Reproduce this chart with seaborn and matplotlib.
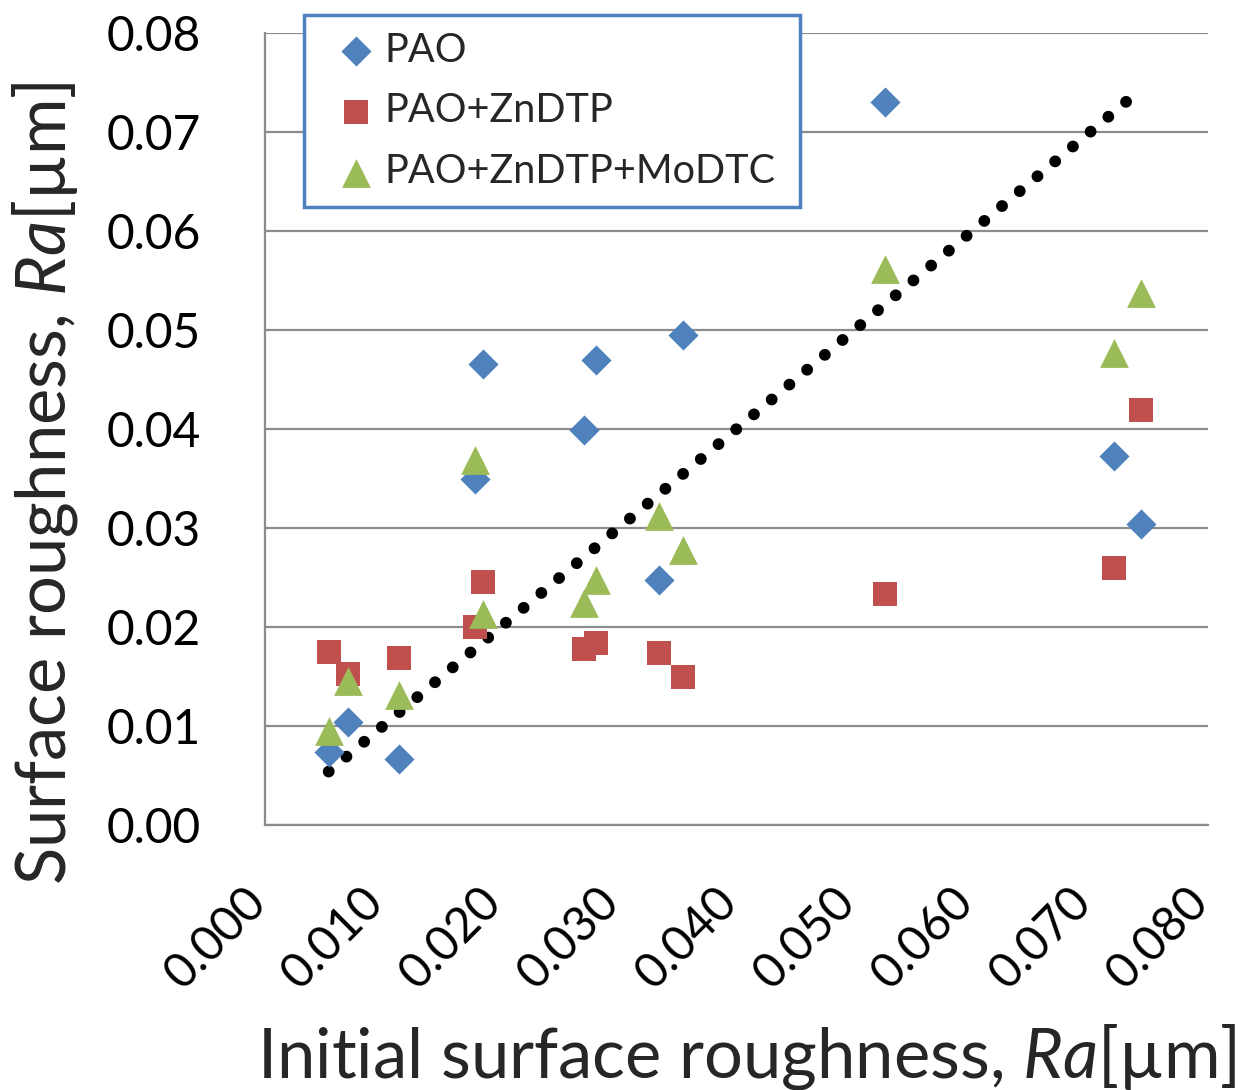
import numpy as np
import pandas as pd
import seaborn as sns
import matplotlib.pyplot as plt
import matplotlib.transforms as mtransforms

sns.set_theme(style="white")
plt.rcParams['font.family'] = ['Lato', 'DejaVu Sans']
plt.rcParams['mathtext.fontset'] = 'custom'
plt.rcParams['mathtext.rm'] = 'Lato'
plt.rcParams['mathtext.it'] = 'Lato:italic'

# initial roughness (shared by all three oils)
init_ra = [0.0054, 0.0070, 0.0114, 0.0178, 0.0185, 0.0271, 0.0281, 0.0334, 0.0355, 0.0526, 0.0720, 0.0743]

pao = [0.0074, 0.0104, 0.0067, 0.0350, 0.0466, 0.0399, 0.0470, 0.0247, 0.0495, 0.0730, 0.0373, 0.0304]
pao_zn = [0.0175, 0.0153, 0.0169, 0.0200, 0.0245, 0.0178, 0.0184, 0.0174, 0.0150, 0.0233, 0.0260, 0.0419]
pao_zn_mo = [0.0095, 0.0145, 0.0131, 0.0369, 0.0213, 0.0224, 0.0248, 0.0312, 0.0278, 0.0562, 0.0477, 0.0537]

names = ['PAO', 'PAO+ZnDTP', 'PAO+ZnDTP+MoDTC']

# 1:1 reference line over the measured range
line_x = [min(init_ra), max(init_ra)]
line_y = line_x

fig, ax = plt.subplots(figsize=(12.46, 10.9), dpi=100)
fig.subplots_adjust(left=0.2127, right=0.9695, bottom=0.2431, top=0.9697)

ax.yaxis.grid(True, color='#8c8c8c', linewidth=1.6)
ax.set_axisbelow(True)

# dotted 1:1 line
ax.plot(line_x, line_y, color='black', linewidth=8.5,
        linestyle=(0, (0.01, 1.95)), dash_capstyle='round', zorder=2)

styles = [('D', '#4F81BD', 235), ('s', '#C0504D', 300), ('^', '#9BBB59', 430)]
for vals, name, (mk, col, sz) in zip([pao, pao_zn, pao_zn_mo], names, styles):
    sns.scatterplot(x=init_ra, y=vals, ax=ax, marker=mk, color=col, s=sz,
                    linewidth=0, label=name, zorder=3)

ticks = np.arange(0, 0.0801, 0.01)
ax.set_xlim(0, 0.08)
ax.set_ylim(0, 0.08)
ax.set_xticks(ticks)
ax.set_yticks(ticks)
ax.set_xticklabels([f'{v:.3f}' for v in ticks], rotation=45, ha='right')
ax.set_yticklabels([f'{v:.2f}' for v in ticks])
ax.tick_params(axis='both', labelsize=34.5, length=0, colors='black')
ax.tick_params(axis='y', pad=46)
ax.tick_params(axis='x', pad=39)

# nudge the rotated x labels so their ends sit at the ticks
shift = mtransforms.ScaledTranslation(9 / 100, 0, fig.dpi_scale_trans)
for lab in ax.get_xticklabels():
    lab.set_transform(lab.get_transform() + shift)

for s in ['top', 'right']:
    ax.spines[s].set_visible(False)
for s in ['left', 'bottom']:
    ax.spines[s].set_color('#8c8c8c')
    ax.spines[s].set_linewidth(1.6)

ax.set_xlabel('Initial surface roughness, $\\mathit{Ra}$[µm]', fontsize=49.5)
ax.set_ylabel('Surface roughness, $\\mathit{Ra}$[µm]', fontsize=49.5)
ax.xaxis.set_label_coords(0.511, -0.249)
ax.yaxis.set_label_coords(-0.196, 0.432)

leg = ax.legend(loc='upper left',
                bbox_to_anchor=(304 / 1246, 1 - 202 / 1090, 496 / 1246, 187 / 1090),
                bbox_transform=fig.transFigure, mode='expand', fontsize=28.5, frameon=True,
                fancybox=False, borderaxespad=0, borderpad=0.42, labelspacing=0.6,
                handlelength=1.8, handletextpad=-0.2)
leg.get_frame().set_edgecolor('#4F81BD')
leg.get_frame().set_linewidth(2.5)
leg.get_frame().set_facecolor('white')
leg.get_frame().set_alpha(1)

plt.savefig('out.png', dpi=100)
